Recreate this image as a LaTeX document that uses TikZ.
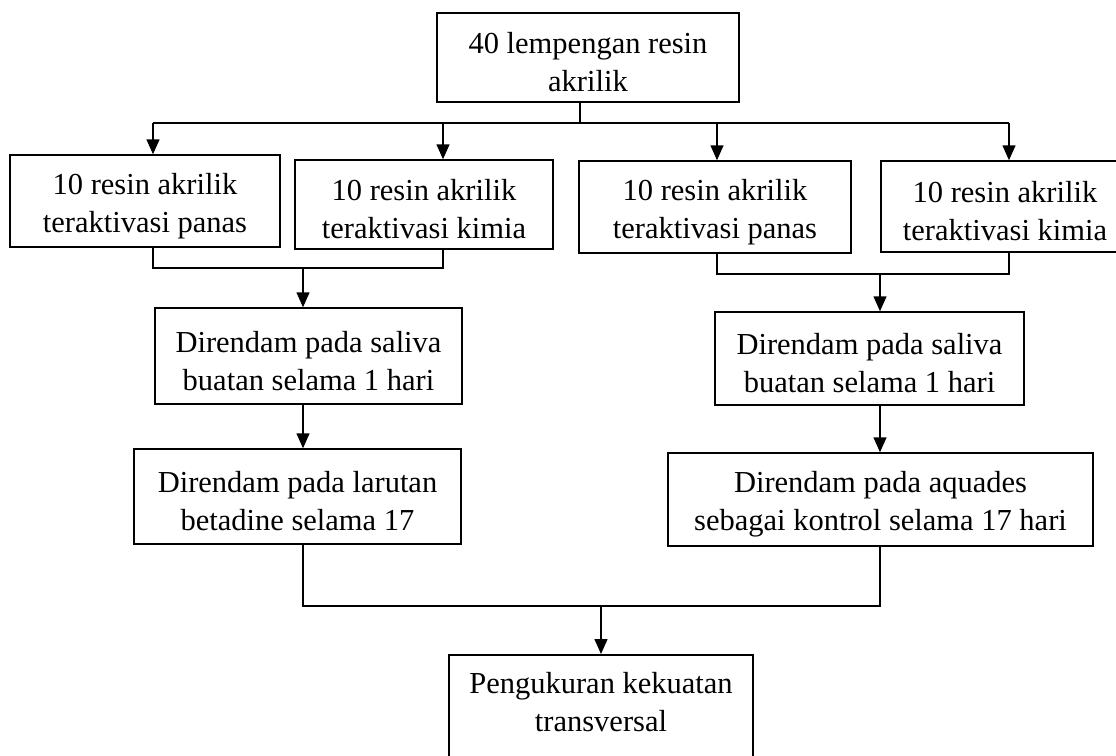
\documentclass[tikz,border=0pt]{standalone}
\usepackage{fontspec}
\setmainfont{Liberation Serif}
\usetikzlibrary{arrows.meta}

\tikzset{
  kotak/.style={draw, line width=1.5pt, align=center, inner sep=0pt, text height=69pt, font=\fontsize{30.5}{38}\selectfont},
  garis/.style={line width=1.5pt},
  panah/.style={line width=1.5pt, -{Triangle[length=15pt,width=13pt]}}
}

\begin{document}
\begin{tikzpicture}[x=1pt,y=-1pt]
\useasboundingbox (0,0) rectangle (1116,755);
\node[kotak, minimum width=302pt, minimum height=89pt] (awal) at (588,57.5) {40 lempengan resin\\akrilik};
\node[kotak, minimum width=270pt, minimum height=92pt] (panasA) at (145,201) {10 resin akrilik\\teraktivasi panas};
\node[kotak, minimum width=258pt, minimum height=89pt] (kimiaA) at (424,204.5) {10 resin akrilik\\teraktivasi kimia};
\node[kotak, minimum width=272pt, minimum height=92pt] (panasB) at (715,207) {10 resin akrilik\\teraktivasi panas};
\node[kotak, minimum width=248pt, minimum height=91pt] (kimiaB) at (1005,206.5) {10 resin akrilik\\teraktivasi kimia};
\node[kotak, minimum width=307pt, minimum height=96pt] (salivaA) at (308.5,356) {Direndam pada saliva\\buatan selama 1 hari};
\node[kotak, minimum width=309pt, minimum height=93pt] (salivaB) at (869.5,358.5) {Direndam pada saliva\\buatan selama 1 hari};
\node[kotak, minimum width=327pt, minimum height=95pt] (betadine) at (297.5,496.5) {Direndam pada larutan\\betadine selama 17};
\node[kotak, minimum width=425pt, minimum height=93pt] (aquades) at (880.5,499.5) {Direndam pada aquades\\sebagai kontrol selama 17 hari};
\node[kotak, minimum width=304pt, inner ysep=8pt, text depth=45pt, anchor=north] (hasil) at (601,654) {Pengukuran kekuatan\\transversal};

\coordinate (cabang) at (580,123);
\coordinate (c1) at (153,123);
\coordinate (c2) at (443,123);
\coordinate (c3) at (717,123);
\coordinate (c4) at (1009,123);
\coordinate (kiri) at (303,268);
\coordinate (kanan) at (880,274);
\coordinate (gabung) at (601,606);

\draw[garis] (awal.south -| cabang) -- (cabang);
\draw[garis] (c1) -- (c4);
\foreach \c/\n in {c1/panasA, c2/kimiaA, c3/panasB, c4/kimiaB}
  \draw[panah] (\c) -- (\c |- \n.north);

\draw[garis] (c1 |- panasA.south) -- (c1 |- kiri) -- (c2 |- kiri) -- (c2 |- kimiaA.south);
\draw[panah] (kiri) -- (kiri |- salivaA.north);
\draw[panah] (salivaA.south -| kiri) -- (kiri |- betadine.north);

\draw[garis] (c3 |- panasB.south) -- (c3 |- kanan) -- (c4 |- kanan) -- (c4 |- kimiaB.south);
\draw[panah] (kanan) -- (kanan |- salivaB.north);
\draw[panah] (salivaB.south -| kanan) -- (kanan |- aquades.north);

\draw[garis] (betadine.south -| kiri) -- (kiri |- gabung) -- (kanan |- gabung) -- (aquades.south -| kanan);
\draw[panah] (gabung) -- (hasil.north);
\end{tikzpicture}
\end{document}
